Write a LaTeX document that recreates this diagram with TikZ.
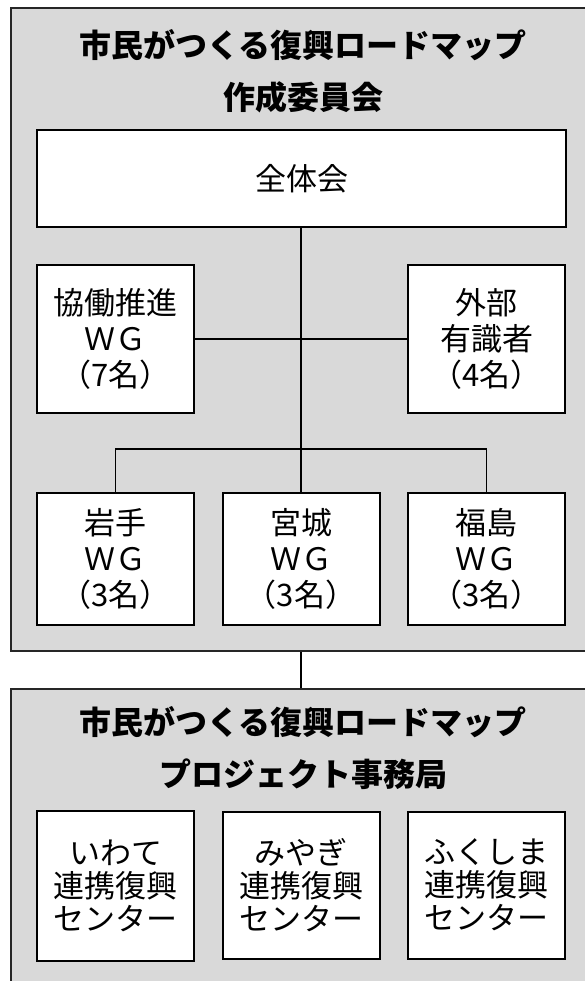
\documentclass[tikz,border=0pt]{standalone}
\usepackage{fontspec}
\setmainfont{Noto Sans CJK JP}
\usepackage{xcolor}
\usetikzlibrary{positioning}
\definecolor{panelgray}{HTML}{D9D9D9}

\begin{document}
\begin{tikzpicture}[x=1pt, y=-1pt,
    panel/.style={rectangle, draw=black!85, line width=2pt, fill=panelgray, inner sep=0pt},
    unit/.style={rectangle, draw, line width=2pt, fill=white, align=center, inner sep=0pt, font=\fontsize{31}{36}\selectfont},
    center/.style={unit, minimum width=157pt, font=\fontsize{31}{33}\selectfont},
    heading/.style={align=center, font=\fontsize{32}{52}\selectfont\bfseries},
    link/.style={line width=1.5pt},
]
\useasboundingbox (0,0) rectangle (585,981);

% Panels (right edge runs off the page)
\node[panel, minimum width=589pt, minimum height=643pt] (committee) at (305.5,329.5) {};
\node[panel, minimum width=589pt, minimum height=320pt] (office) at (305.5,849) {};

\node[heading] (comtitle) at (303,71) {市民がつくる復興ロードマップ\\作成委員会};
\node[heading] (offtitle) at (303,748) {市民がつくる復興ロードマップ\\プロジェクト事務局};

% Committee
\node[unit, minimum width=529pt, minimum height=97pt] (plenary) at (301.5,178.5) {全体会};
\node[unit, minimum width=157pt, minimum height=147pt] (kyodo) at (115.5,339) {協働推進\\ＷＧ\\（7名）};
\node[unit, minimum width=157pt, minimum height=147pt] (expert) at (486.5,339) {外部\\有識者\\（4名）};

\node[unit, minimum width=157pt, minimum height=132pt] (iwate) at (115.5,559) {岩手\\ＷＧ\\（3名）};
\node[unit, minimum width=157pt, minimum height=132pt] (miyagi) at (301,559) {宮城\\ＷＧ\\（3名）};
\node[unit, minimum width=157pt, minimum height=132pt] (fukushima) at (486.5,559) {福島\\ＷＧ\\（3名）};

% Office
\node[center, minimum height=150pt] (iwatec) at (115.5,886) {いわて\\連携復興\\センター};
\node[center, minimum height=147pt] (miyagic) at (301,885) {みやぎ\\連携復興\\センター};
\node[center, minimum height=147pt] (fukushimac) at (486.5,885) {ふくしま\\連携復興\\センター};

% Connectors
\coordinate (split) at (301,449);
\draw[link] (plenary.south -| miyagi.north) -- (miyagi.north);
\draw[link] (kyodo.east) -- (expert.west);
\draw[link] (iwate.north) |- (split) -| (fukushima.north);
\draw[link] (committee.south -| miyagi.north) -- (office.north -| miyagi.north);

\end{tikzpicture}
\end{document}
